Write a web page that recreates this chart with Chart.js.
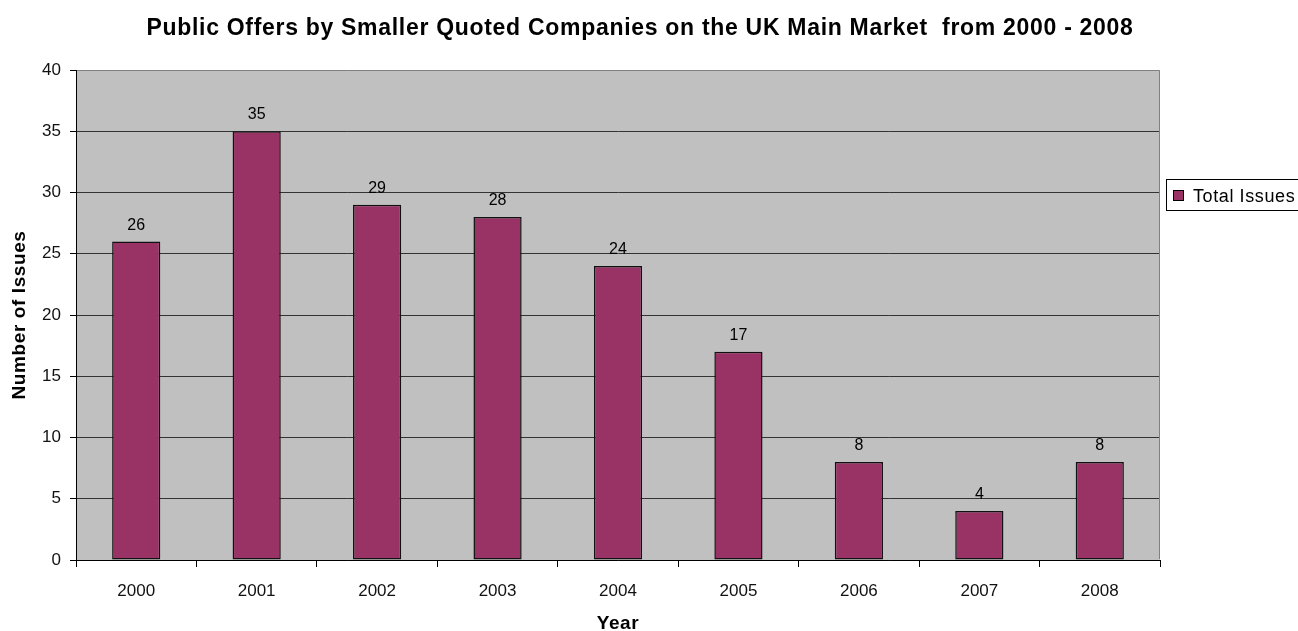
<!DOCTYPE html>
<html>
<head>
<meta charset="utf-8">
<script src="https://cdn.jsdelivr.net/npm/chart.js@4"></script>
<style>
  html, body { margin: 0; padding: 0; background: #fff; }
  #wrap { width: 1298px; height: 631px; }
</style>
</head>
<body>
<div id="wrap"><canvas id="issuesChart" width="1298" height="631"></canvas></div>
<script>
// Chart data
const years = ['2000', '2001', '2002', '2003', '2004', '2005', '2006', '2007', '2008'];
const totalIssues = [26, 35, 29, 28, 24, 17, 8, 4, 8];
const seriesName = 'Total Issues';
const chartTitle = 'Public Offers by Smaller Quoted Companies on the UK Main Market  from 2000 - 2008';

const FONT = '"Liberation Sans", Arial, sans-serif';
const BAR_COLOR = '#993366';

// Gray plot background, borders, labels, titles and legend
const decorations = {
    id: 'decorations',
    beforeDraw(chart) {
        const { ctx, chartArea: a } = chart;
        ctx.save();
        ctx.fillStyle = '#c0c0c0';
        ctx.fillRect(a.left, a.top, a.right - a.left, a.bottom - a.top);
        ctx.restore();
    },
    afterDraw(chart) {
        const { ctx, chartArea: a } = chart;
        ctx.save();

        // gray frame on top and right
        ctx.strokeStyle = '#808080';
        ctx.lineWidth = 1;
        ctx.beginPath();
        ctx.moveTo(a.left + 1, a.top + 0.5);
        ctx.lineTo(a.right - 0.5, a.top + 0.5);
        ctx.lineTo(a.right - 0.5, a.bottom - 1);
        ctx.stroke();

        ctx.fillStyle = '#000';

        // title
        ctx.font = 'bold 23px ' + FONT;
        ctx.letterSpacing = '0.7px';
        ctx.textAlign = 'center';
        ctx.textBaseline = 'alphabetic';
        ctx.fillText(chartTitle, 640, 35);

        // axis titles
        ctx.font = 'bold 19px ' + FONT;
        ctx.letterSpacing = '0.6px';
        ctx.fillText('Year', (a.left + a.right) / 2, 629);
        ctx.save();
        ctx.translate(25, (a.top + a.bottom) / 2);
        ctx.rotate(-Math.PI / 2);
        ctx.fillText('Number of Issues', 0, 0);
        ctx.restore();

        // value labels
        ctx.letterSpacing = '0px';
        ctx.font = '16px ' + FONT;
        const meta = chart.getDatasetMeta(0);
        meta.data.forEach((bar, i) => {
            ctx.fillText(String(totalIssues[i]), bar.x, bar.y - 12);
        });

        // legend
        ctx.fillStyle = '#fff';
        ctx.fillRect(1166, 179, 140, 31);
        ctx.strokeStyle = '#000';
        ctx.lineWidth = 1;
        ctx.strokeRect(1166.5, 179.5, 140, 31);
        ctx.fillStyle = BAR_COLOR;
        ctx.fillRect(1173.5, 190.5, 10, 10);
        ctx.strokeRect(1173.5, 190.5, 10, 10);
        ctx.fillStyle = '#000';
        ctx.font = '18px ' + FONT;
        ctx.letterSpacing = '0.6px';
        ctx.textAlign = 'left';
        ctx.textBaseline = 'alphabetic';
        ctx.fillText(seriesName, 1193, 202);
        ctx.restore();
    }
};

new Chart(document.getElementById('issuesChart'), {
    type: 'bar',
    data: {
        labels: years,
        datasets: [{
            label: seriesName,
            data: totalIssues,
            backgroundColor: BAR_COLOR,
            borderColor: '#111',
            borderWidth: 1.5,
            borderSkipped: false,
            categoryPercentage: 0.4,
            barPercentage: 1.0
        }]
    },
    options: {
        responsive: false,
        animation: false,
        layout: {
            padding: { left: 0, right: 138, top: 70, bottom: 0 }
        },
        plugins: {
            legend: { display: false },
            title: { display: false },
            tooltip: { enabled: false }
        },
        scales: {
            x: {
                grid: {
                    offset: true,
                    drawOnChartArea: false,
                    color: '#000',
                    tickLength: 7
                },
                border: { color: '#000', width: 1 },
                ticks: {
                    color: '#111',
                    font: { family: FONT, size: 17 },
                    padding: 14
                },
                afterFit(scale) { scale.height = 71; }
            },
            y: {
                min: 0,
                max: 40,
                ticks: {
                    stepSize: 5,
                    color: '#111',
                    font: { family: FONT, size: 17 },
                    padding: 9
                },
                grid: {
                    color: ctx => (ctx.tick && ctx.tick.value === 40) ? 'rgba(0,0,0,0)' : '#333',
                    tickLength: 6,
                    tickColor: '#000'
                },
                border: { color: '#000', width: 1 },
                afterFit(scale) { scale.width = 76; }
            }
        }
    },
    plugins: [decorations]
});
</script>
</body>
</html>
